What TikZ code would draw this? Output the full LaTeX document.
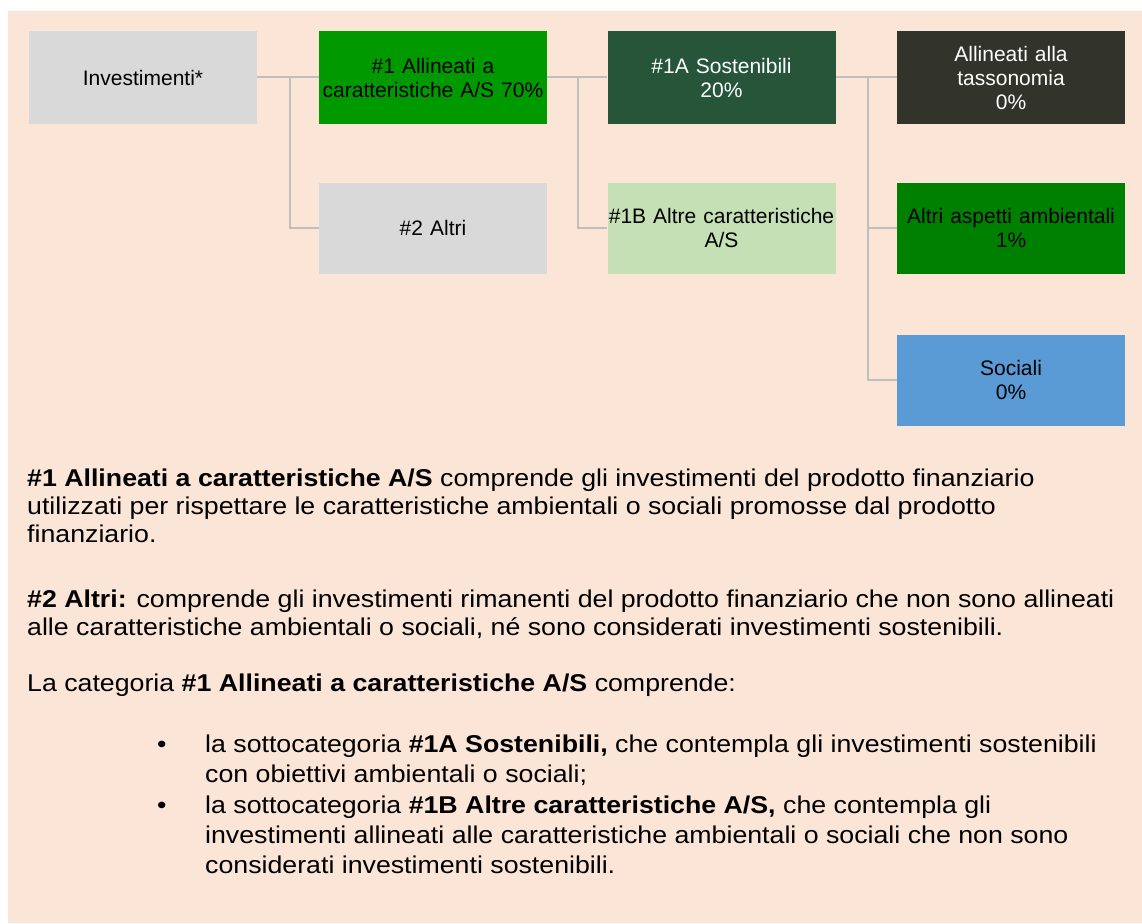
\documentclass[tikz,border=0pt]{standalone}
\usepackage{fontspec}
\setmainfont{Liberation Sans}
\newfontfamily\bodyfont[FakeStretch=1.1]{Liberation Sans}
\definecolor{bgbeige}{HTML}{FBE5D6}
\definecolor{boxgrey}{HTML}{D9D9D9}
\definecolor{greenA}{HTML}{009900}
\definecolor{darkgreen}{HTML}{26553A}
\definecolor{taxdark}{HTML}{32332A}
\definecolor{lightgreen}{HTML}{C5E0B4}
\definecolor{midgreen}{HTML}{008000}
\definecolor{socblue}{HTML}{5B9BD5}
\definecolor{connline}{HTML}{BFBFBF}
\tikzset{
  box/.style={draw=none, inner sep=0pt, minimum width=228pt, minimum height=91pt,
    text width=228pt, align=center, font=\fontsize{21}{24}\selectfont},
  tallbox/.style={box, minimum height=93pt},
  conn/.style={draw=connline, line width=2pt},
  bodyline/.style={anchor=base west, inner sep=0pt, font=\bodyfont\fontsize{24.3}{28}\selectfont},
}
\begin{document}
\begin{tikzpicture}[x=1pt,y=-1pt]
\useasboundingbox (0,0) rectangle (1142,923);
\fill[bgbeige] (8,11) rectangle (1142,923);

% connector junctions
\coordinate (j1) at (290,77.5);
\coordinate (j2) at (578,77.5);
\coordinate (j3) at (867.5,77.5);

\node[tallbox, fill=boxgrey] (inv) at (143,77.5) {Investimenti*};
\node[tallbox, fill=greenA] (a1) at (433,77.5) {\#1 Allineati a\\caratteristiche A/S 70\%};
\node[box, fill=boxgrey] (a2) at (433,228) {\#2 Altri};
\node[tallbox, fill=darkgreen, text=white] (s1a) at (721.5,77.5) {\#1A Sostenibili\\20\%};
\node[box, fill=lightgreen] (s1b) at (721.5,228) {\#1B Altre caratteristiche\\A/S};
\node[tallbox, fill=taxdark, text=white] (tax) at (1011,77.5) {Allineati alla\\tassonomia\\0\%};
\node[box, fill=midgreen] (amb) at (1011,228) {Altri aspetti ambientali\\1\%};
\node[box, fill=socblue] (soc) at (1011,380) {Sociali\\0\%};

\draw[conn] (inv.east) -- (a1.west);
\draw[conn] (j1) |- (a2.west);
\draw[conn] (a1.east) -- (s1a.west);
\draw[conn] (j2) |- (s1b.west);
\draw[conn] (s1a.east) -- (tax.west);
\draw[conn] (j3) |- (amb.west);
\draw[conn] (j3) |- (soc.west);

% body text
\node[bodyline] (t1) at (27,486) {\textbf{\#1 Allineati a caratteristiche A/S} comprende gli investimenti del prodotto finanziario};
\node[bodyline] (t2) at (27,514) {utilizzati per rispettare le caratteristiche ambientali o sociali promosse dal prodotto};
\node[bodyline] (t3) at (27,542) {finanziario.};
\node[bodyline] (t4) at (27,607) {\textbf{\#2 Altri:} comprende gli investimenti rimanenti del prodotto finanziario che non sono allineati};
\node[bodyline] (t5) at (27,635) {alle caratteristiche ambientali o sociali, né sono considerati investimenti sostenibili.};
\node[bodyline] (t6) at (27,691) {La categoria \textbf{\#1 Allineati a caratteristiche A/S} comprende:};
\node[bodyline] (b1) at (157,752) {•};
\node[bodyline] (t7) at (205,752) {la sottocategoria \textbf{\#1A Sostenibili,} che contempla gli investimenti sostenibili};
\node[bodyline] (t8) at (205,782) {con obiettivi ambientali o sociali;};
\node[bodyline] (b2) at (157,813) {•};
\node[bodyline] (t9) at (205,813) {la sottocategoria \textbf{\#1B Altre caratteristiche A/S,} che contempla gli};
\node[bodyline] (t10) at (205,843) {investimenti allineati alle caratteristiche ambientali o sociali che non sono};
\node[bodyline] (t11) at (205,873) {considerati investimenti sostenibili.};
\end{tikzpicture}
\end{document}
